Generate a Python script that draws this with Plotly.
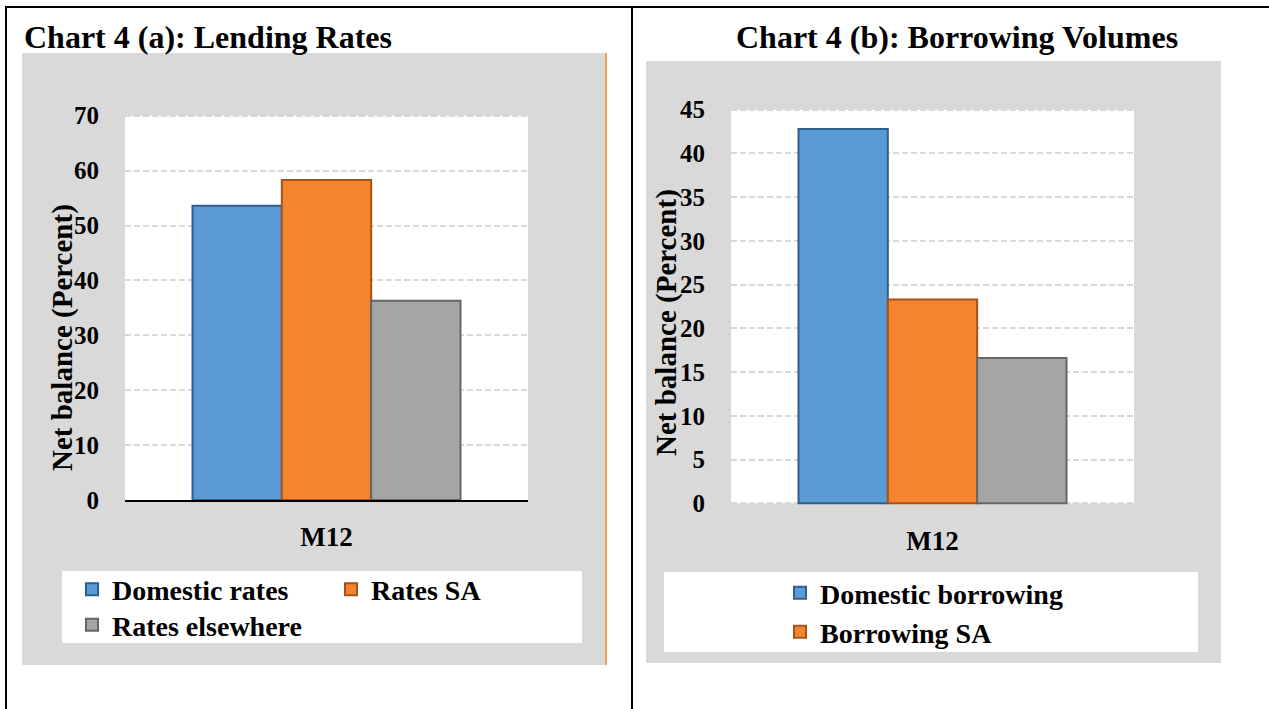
import plotly.graph_objects as go

W, H = 1269, 709

# ---------------- data ----------------
categories = ["M12"]

lend_series = ["Domestic rates", "Rates SA", "Rates elsewhere"]
lend_values = [53.6, 58.3, 36.3]

borrow_series = ["Domestic borrowing", "Borrowing SA", "Borrowing elsewhere"]
borrow_values = [42.8, 23.3, 16.6]
borrow_in_legend = [True, True, False]

left_ticks = [0, 10, 20, 30, 40, 50, 60, 70]
right_ticks = [0, 5, 10, 15, 20, 25, 30, 35, 40, 45]

# ---------------- style ----------------
FONT = "Liberation Serif, Times New Roman, serif"
fill_colors = ["#5B9BD5", "#F5842F", "#A5A5A5"]
edge_colors = ["#2E5F8E", "#A4531A", "#666666"]


def px(x):
    return x / W


def py(y):
    return 1 - y / H


fig = go.Figure()

left_legends = ["legend", "legend2", "legend3"]
for i, (name, val) in enumerate(zip(lend_series, lend_values)):
    fig.add_trace(go.Bar(
        x=categories, y=[val], name=name,
        marker=dict(color=fill_colors[i], line=dict(color=edge_colors[i], width=2)),
        xaxis="x", yaxis="y", legend=left_legends[i],
    ))

right_legends = ["legend4", "legend5", "legend5"]
for i, (name, val) in enumerate(zip(borrow_series, borrow_values)):
    fig.add_trace(go.Bar(
        x=categories, y=[val], name=name,
        marker=dict(color=fill_colors[i], line=dict(color=edge_colors[i], width=2)),
        xaxis="x2", yaxis="y2", legend=right_legends[i],
        showlegend=borrow_in_legend[i],
    ))

tickfont = dict(family=FONT, size=25, color="black", weight="bold")
xtickfont = dict(family=FONT, size=27, color="black", weight="bold")

# plot areas (pixels): value range edges
L = dict(x0=125, x1=528, y0=115.7, y1=500)   # y0 -> 70, y1 -> 0
R = dict(x0=731, x1=1134, y0=109.7, y1=503.3)  # y0 -> 45, y1 -> 0

# small padding so the gridlines at the range ends are drawn
L_pad = 0.3
L_ppu = (L["y1"] - L["y0"]) / 70.0
R_pad = 0.2
R_ppu = (R["y1"] - R["y0"]) / 45.0

common_y = dict(
    tickfont=tickfont, showgrid=True, gridcolor="#D9D9D9", griddash="6px,3px",
    gridwidth=1.5, zeroline=False, showline=False, ticks="outside",
    ticklen=20, tickcolor="rgba(0,0,0,0)", fixedrange=True,
)
common_x = dict(
    tickfont=xtickfont, showgrid=False, zeroline=False, ticks="outside",
    ticklen=12, tickcolor="rgba(0,0,0,0)", fixedrange=True,
)

fig.update_layout(
    width=W, height=H,
    margin=dict(l=0, r=0, t=0, b=0, autoexpand=False),
    paper_bgcolor="white",
    plot_bgcolor="rgba(0,0,0,0)",
    barmode="group", bargap=0.335, bargroupgap=0,
    xaxis=dict(domain=[px(L["x0"]), px(L["x1"])], anchor="y",
               showline=True, linecolor="black", linewidth=1.5, **common_x),
    yaxis=dict(domain=[py(L["y1"]), py(L["y0"] - L_pad * L_ppu)], anchor="x",
               range=[0, 70 + L_pad], tickvals=left_ticks, automargin=False, **common_y),
    xaxis2=dict(domain=[px(R["x0"]), px(R["x1"])], anchor="y2",
                showline=False, **common_x),
    yaxis2=dict(domain=[py(R["y1"] + R_pad * R_ppu), py(R["y0"] - R_pad * R_ppu)], anchor="x2",
                range=[-R_pad, 45 + R_pad], tickvals=right_ticks, automargin=False, **common_y),
    showlegend=True,
)
fig.update_xaxes(automargin=False)

legfont = dict(family=FONT, size=28, color="black", weight="bold")


def legend_at(xpix, ypix):
    return dict(x=px(xpix - 40), y=py(ypix), xanchor="left", yanchor="middle",
                bgcolor="rgba(0,0,0,0)", font=legfont, orientation="v",
                itemclick=False, itemdoubleclick=False)


fig.update_layout(
    legend=legend_at(112, 589.5),
    legend2=legend_at(371, 589.5),
    legend3=legend_at(112, 625),
    legend4=legend_at(820, 593),
    legend5=legend_at(820, 632),
)

shapes = []
# grey chart boxes
shapes.append(dict(type="rect", xref="paper", yref="paper", layer="below",
                   x0=px(22), x1=px(606), y0=py(665), y1=py(53),
                   fillcolor="#D9D9D9", line=dict(width=0)))
shapes.append(dict(type="rect", xref="paper", yref="paper", layer="below",
                   x0=px(646), x1=px(1221), y0=py(663), y1=py(61),
                   fillcolor="#D9D9D9", line=dict(width=0)))
# white plot areas
for P in (L, R):
    shapes.append(dict(type="rect", xref="paper", yref="paper", layer="below",
                       x0=px(P["x0"]), x1=px(P["x1"]), y0=py(P["y1"]), y1=py(P["y0"]),
                       fillcolor="white", line=dict(width=0)))
# legend boxes
shapes.append(dict(type="rect", xref="paper", yref="paper", layer="below",
                   x0=px(62), x1=px(582), y0=py(643), y1=py(571),
                   fillcolor="white", line=dict(width=0)))
shapes.append(dict(type="rect", xref="paper", yref="paper", layer="below",
                   x0=px(664), x1=px(1198), y0=py(652), y1=py(572),
                   fillcolor="white", line=dict(width=0)))
# orange edge line on left chart
shapes.append(dict(type="line", xref="paper", yref="paper", layer="above",
                   x0=px(606), x1=px(606), y0=py(53), y1=py(665),
                   line=dict(color="#F4A04F", width=2)))
# table borders
for (x0, y0, x1, y1) in [(5, 7, 1269, 7), (6, 7, 6, 709), (632, 7, 632, 709)]:
    shapes.append(dict(type="line", xref="paper", yref="paper", layer="above",
                       x0=px(x0), x1=px(x1), y0=py(y0), y1=py(y1),
                       line=dict(color="black", width=2)))
fig.update_layout(shapes=shapes)

titlefont = dict(family=FONT, size=32, color="black", weight="bold")
axtitlefont = dict(family=FONT, size=29, color="black", weight="bold")
annotations = [
    dict(text="Chart 4 (a): Lending Rates", x=px(22), y=py(37), xref="paper", yref="paper",
         xanchor="left", yanchor="middle", showarrow=False, font=titlefont),
    dict(text="Chart 4 (b): Borrowing Volumes", x=px(957), y=py(37), xref="paper", yref="paper",
         xanchor="center", yanchor="middle", showarrow=False, font=titlefont),
    dict(text="Net balance (Percent)", x=px(63), y=py(338), xref="paper", yref="paper",
         xanchor="center", yanchor="middle", showarrow=False, textangle=-90, font=axtitlefont),
    dict(text="Net balance (Percent)", x=px(667), y=py(323), xref="paper", yref="paper",
         xanchor="center", yanchor="middle", showarrow=False, textangle=-90, font=axtitlefont),
]
fig.update_layout(annotations=annotations)

fig.write_html("out.html")
